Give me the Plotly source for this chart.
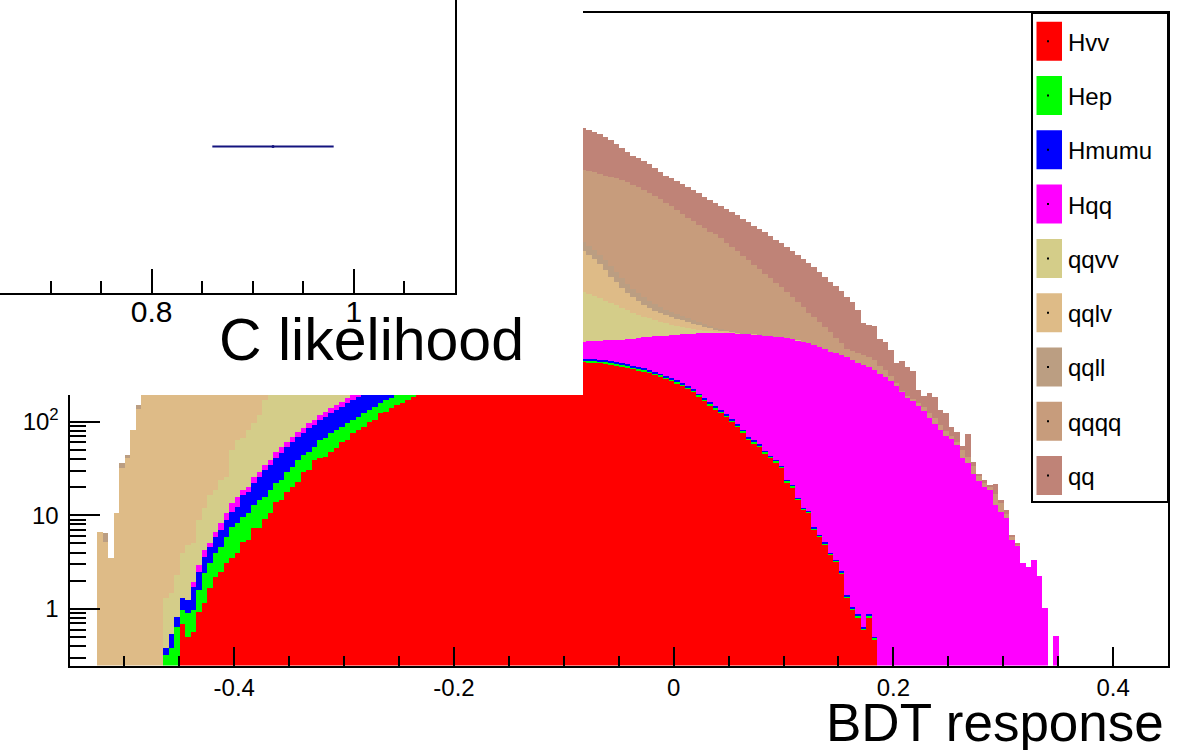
import numpy as np
import plotly.graph_objects as go

W, H = 1181, 750

# ---------------- data ----------------
bin_low = -0.55
bin_width = 0.005
n_bins = 200

series_names = ["Hvv", "Hep", "Hmumu", "Hqq", "qqvv", "qqlv", "qqll", "qqqq", "qq"]
series_colors = ["#FF0000", "#00FF00", "#0000FF", "#FF00FF", "#D4CD89",
                 "#DEBB87", "#BB9E82", "#C79C7C", "#BF8377"]

hvv_first_bin = 20
hvv = [0.69, 0.50, 0.57, 0.93, 1.16, 1.67, 2.19, 2.48, 3.1, 3.5,
       3.96, 5.2, 5.45, 7.3, 7.3, 9.1, 10.6, 13.9, 14.6, 17.7,
       20, 22.6, 29, 30.3, 38.8, 40.9, 42, 47.4, 52, 60.5,
       63.5, 75.5, 81, 88, 99, 104, 123, 127, 140, 151,
       158, 170, 183, 190, 203, 214, 228, 240, 251, 265,
       276, 291, 300, 316, 326, 341, 350, 363, 371, 383,
       390, 400, 405, 415, 419, 427, 430, 436, 437, 441,
       442, 440, 438, 433, 430, 427, 422, 417, 407, 397,
       388, 378, 366, 355, 343, 330, 316, 303, 287, 271,
       256, 240, 224, 207, 186, 166, 150, 136, 124, 112,
       99, 88, 77, 64, 59, 54, 46, 41, 37, 32,
       22.6, 20, 14.6, 11.4, 10.6, 7.1, 5.9, 4.9, 3.8, 3.2,
       2.4, 1.31, 0.98, 0.82, 0.60, 0.82, 0.47]

hep_first_bin = 17
hep = [0.32, 0.38, 0.64, 0.29, 0.41, 0.41, 0.67, 1.26, 1.43, 1.77,
       2.1, 2.77, 4.0, 4.31, 4.4, 5.15, 5.6, 7.3, 6.6, 8.0,
       8.2, 9.2, 11.3, 12.7, 16.2, 14.9, 17.1, 14.6, 22.6, 24.6,
       28.1, 29, 27.5, 33.3, 28.5, 31, 35, 34, 39, 35, 43,
       40, 41, 39, 40, 38, 37, 37, 35, 34, 34,
       32, 31, 31, 29, 28, 28, 27, 26, 25, 25,
       24, 23, 23, 22, 22, 21, 21, 20, 20, 20,
       19, 19, 19, 18.5, 18.5,
       18, 18, 17, 17, 17, 16, 16, 15, 15, 14,
       14, 13, 13, 12, 11.5, 11, 10, 9.5, 9, 8.4,
       7.8, 6.8, 6.1, 5.5, 4.9, 4.4, 4.0, 3.5, 3.1, 2.7,
       2.2, 2.0, 1.8, 1.5, 1.3, 1.2, 1.0, 0.7, 0.6, 0.45,
       0.35, 0.3, 0.2, 0.17, 0.14, 0.11, 0.09, 0.07, 0.05, 0.04,
       0.03, 0.02, 0.03, 0.02]

hmumu_first_bin = 17
hmumu = [0.06, 0.16, 0.18, 0.33, 0.34, 0.74, 0.88, 1.18, 1.5, 1.91,
         2.38, 3.03, 3.3, 4.03, 6.9, 7.1, 9.2, 11, 14.6, 15.7,
         18.8, 22.3, 24.4, 27.8, 29.6, 31.6, 38.1, 38.6, 40.5, 45.4,
         47.5, 52, 55, 61.2, 66, 71,
         72, 72, 70, 70, 68, 66, 65, 62, 60, 58,
         56, 54, 52, 50, 48, 46, 44, 42, 40, 39,
         37, 35, 34, 32, 31, 30, 29, 28, 27, 26,
         25, 24, 23, 22, 22, 21, 20, 20, 19.5, 19,
         19, 18, 17, 17, 16, 16, 15, 15, 14, 14,
         13, 13, 12, 11, 11, 10, 9.5, 9, 8.5, 8,
         7.4, 6.5, 5.8, 5.2, 4.6, 4.1, 3.7, 3.2, 2.8, 2.4,
         2.0, 1.8, 1.6, 1.3, 1.1, 1.0, 0.85, 0.6, 0.5, 0.38,
         0.3, 0.26, 0.17, 0.14, 0.12, 0.09, 0.08, 0.06, 0.04, 0.03,
         0.025, 0.02, 0.025, 0.015]

hqq_first_bin = 22
hqq = [0.22, 0.47, 0.66, 0.46, 0.76, 1.31, 1.7, 2.7,
       3.4, 2.1, 2.3, 3.5, 3.3, 4.0, 4.5, 6.5, 7.3, 7.1,
       7.9, 9.1, 10, 11.3, 12, 13, 14, 17, 17, 19,
       20, 21, 22, 24, 26, 28, 30, 33, 36, 39,
       42, 46, 50, 54, 58, 63, 68, 73, 78, 84,
       90, 96, 103, 110, 117, 124, 131, 139, 147, 155,
       163, 171, 179, 187, 194, 201, 207, 213, 219, 224,
       229, 233, 236, 238, 250, 264, 269, 284, 295, 315,
       325, 354, 367, 398, 421, 445, 471, 494, 512, 550,
       566, 593, 621, 639, 676, 705, 722, 737, 750, 763,
       777, 778, 779, 793, 788, 783, 781, 777, 771, 766,
       757, 740, 719, 695, 671, 650, 620, 583, 549, 530,
       511, 488, 454, 422, 401, 382, 355, 322, 300, 271,
       240, 207, 179, 166, 147, 130, 109, 94, 81, 70,
       65, 56, 41, 36, 27.6, 23.3, 20.1, 18.6, 12.9, 10.9,
       9.4, 5.5, 4.8, 3.1, 2.8, 3.3, 2.25, 1.03, 0, 0.52]

qqvv_first_bin = 17
qqvv = [0.93, 0.94, 1.49,
        2.65, 3.57, 3.12, 5.95, 7.7, 11.4, 12, 15.5, 15, 36.3,
        47.8, 48, 61, 71, 88.7, 135.7, 170, 200, 240, 280,
        330, 380, 430, 490, 550, 610, 680, 750, 820, 890,
        960, 1030, 1100, 1170, 1240, 1310, 1380, 1450, 1520, 1590,
        1650, 1710, 1770, 1830, 1880, 1930, 1980, 2020, 2060, 2100,
        2130, 2160, 2180, 2200, 2210, 2220, 2220, 2210, 2200, 2180,
        2160, 2130, 2100, 2060, 2020, 1980, 1940, 1900, 1860, 1820,
        1790, 1760, 1730, 1710, 1585, 1466, 1361, 1204, 1111, 1013,
        889, 792, 682, 593, 518, 476, 405, 336, 308, 234,
        208, 172, 137, 113, 78, 44, 33, 22, 22, 11,
        11, 9, 8, 7, 6, 5, 4, 3, 2, 1.5,
        1, 0.8, 0.5]

qqlv_first_bin = 5
qqlv = [6.6, 5.2, 3.5, 10.6, 32,
        41, 81, 136, 190, 300, 430, 600, 800, 1000, 1250,
        1500, 1800, 2100, 2400, 2700, 3000, 3300, 3600, 3900, 4200,
        4500, 4800, 5100, 5400, 5700, 6000, 6300, 6600, 6900, 7200,
        7500, 7700, 7900, 8100, 8300, 8500, 8600, 8700, 8800, 8900,
        9000, 9000, 9000, 8950, 8900, 8850, 8800, 8700, 8600, 8500,
        8400, 8300, 8200, 8100, 8000, 7900, 7800, 7650, 7500, 7350,
        7200, 7050, 6900, 6750, 6600, 6450, 6300, 6150, 6000, 5850,
        5700, 5550, 5450, 5350, 5250, 5100, 5000, 4900, 4800, 4700,
        4550, 4400, 4300, 4202, 3698, 3247, 2725, 2212, 1649, 1334,
        1035, 805, 695, 565, 448, 356, 300, 287, 245, 234,
        197, 192, 158, 127, 124, 96, 70, 45, 33, 33,
        11, 8, 7, 6, 5, 4, 3, 2.5, 2, 1.5,
        1]

qqll_first_bin = 5
qqll = [0, 1.2, 0, 0, 4,
        3, 0, 14, 20, 30, 40, 55, 70, 90, 110,
        130, 160, 190, 220, 250, 290, 330, 370, 410, 450,
        500, 550, 600, 650, 700, 760, 820, 880, 940, 1000,
        1060, 1120, 1180, 1240, 1300, 1350, 1400, 1450, 1500, 1550,
        1600, 1640, 1680, 1720, 1760, 1800, 1830, 1860, 1890, 1910,
        1930, 1950, 1960, 1970, 1980, 1985, 1990, 1990, 1985, 1980,
        1970, 1960, 1950, 1935, 1920, 1900, 1880, 1860, 1840, 1820,
        1800, 1780, 1760, 1740, 1720, 1710, 1700, 1690, 1680, 1670,
        1660, 1650, 1645, 1640, 1487, 1347, 1188, 1156, 1084, 861,
        743, 585, 464, 420, 382, 306, 285, 229, 180, 171,
        162, 125, 120, 114, 82, 78, 62, 48, 24, 11,
        11, 8, 6, 5, 4, 3, 2, 1.5, 1, 0.8,
        0.5]

qqqq_first_bin = 20
qqqq = [50, 70, 100, 140, 190, 250, 330, 420, 530, 660,
        810, 990, 1200, 1440, 1710, 2010, 2350, 2720, 3130, 3580,
        4070, 4600, 5170, 5780, 6430, 7120, 7850, 8620, 9430, 10280,
        11170, 12100, 13060, 14050, 15070, 16120, 17190, 18280, 19390, 20510,
        21640, 22770, 23900, 25020, 26130, 27220, 28290, 29330, 30340, 31310,
        32240, 33120, 33950, 34730, 35450, 36110, 36710, 37250, 37730, 38150,
        38510, 38810, 39060, 39260, 39420, 39550, 39650, 39730, 39790, 39830,
        39850, 39950, 40050,
        40190, 39780, 38775, 37910, 37010, 36210, 35360, 34020, 32700, 30910,
        29540, 27500, 25590, 23770, 21790, 19990, 18280, 16720, 15090, 13610,
        12455, 11384, 10409, 9512, 9052, 8150, 7120, 6386, 5643, 4972,
        4427, 3827, 3402, 2924, 2542, 2201, 1930, 1634, 1375, 1156,
        944, 761, 651, 530, 434, 352, 248, 176, 107, 112,
        117, 112, 106, 99, 70, 56, 36, 18, 3, 9,
        8, 11, 13, 15, 15, 11, 9, 5, 4.5, 9,
        5.7, 6, 3, 2, 1.5, 4, 2.6, 0.9, 0.4, 0.12]

qq_first_bin = 20
qq = [100, 150, 220, 310, 430, 580, 770, 1000, 1280, 1620,
      2020, 2490, 3030, 3640, 4330, 5100, 5950, 6880, 7890, 8980,
      10150, 11400, 12730, 14130, 15600, 17150, 18760, 20430, 22160, 23950,
      25790, 27670, 29590, 31550, 33540, 35550, 37580, 39620, 41670, 43720,
      45760, 47790, 49800, 51790, 53750, 55680, 57570, 59420, 61220, 62970,
      64670, 66310, 67890, 69410, 70860, 72240, 73550, 74790, 75950, 77030,
      78030, 78950, 79790, 80550, 81230, 81830, 82350, 82790, 83150, 83430,
      84500, 85800, 86900,
      87520, 82180, 77680, 73420, 66680, 60460, 52470, 45770, 39780, 34850,
      33190, 30790, 28620, 25310, 22670, 20270, 20050, 18850, 17920, 17020,
      15970, 14990, 13440, 12620, 11490, 10890, 10520, 9958, 9490, 8686,
      8194, 7547, 7116, 6797, 6201, 5659, 5324, 4885, 4481, 4108,
      3786, 3487, 3160, 2795, 2471, 2185, 2020, 1787, 1542, 1324,
      1013, 614, 585, 593, 369, 351, 274, 164, 237, 195,
      173, 59, 45, 78, 74, 41, 44.6, 17.3, 16.9, 5.2,
      31.9, 3.5, 1.3, 1.7, 1.0, 4.7, 1.1, 1.1, 0.15, 0.12]

series_first_bins = [hvv_first_bin, hep_first_bin, hmumu_first_bin, hqq_first_bin,
                     qqvv_first_bin, qqlv_first_bin, qqll_first_bin, qqqq_first_bin,
                     qq_first_bin]
series_values = [hvv, hep, hmumu, hqq, qqvv, qqlv, qqll, qqqq, qq]

# inset: C likelihood measurement
c_like_value = [0.92]
c_like_error = [0.06]
c_like_row = [1.0]

x_ticks = [-0.4, -0.2, 0.0, 0.2, 0.4]
x_tick_labels = ["-0.4", "-0.2", "0", "0.2", "0.4"]
y_ticks = [1, 10, 100, 1e3, 1e4, 1e5, 1e6]
y_tick_labels = ["1", "10", "10<sup>2</sup>", "10<sup>3</sup>", "10<sup>4</sup>",
                 "10<sup>5</sup>", "10<sup>6</sup>"]
inset_ticks = [0.8, 1.0]
inset_tick_labels = ["0.8", "1"]

# ---------------- figure ----------------
def px(x):
    return x / W

def py(y):
    return 1 - y / H

centers = bin_low + bin_width * (np.arange(n_bins) + 0.5)

fig = go.Figure()
for name, color, first, vals in zip(series_names, series_colors,
                                     series_first_bins, series_values):
    arr = np.zeros(n_bins)
    arr[first:first + len(vals)] = vals
    fig.add_trace(go.Bar(
        x=centers, y=arr, width=bin_width, name=name,
        marker=dict(color=color, line=dict(width=0)),
        showlegend=False, xaxis="x", yaxis="y", hoverinfo="skip"))

# blank pad subplot (white background covering part of main frame)
fig.add_trace(go.Scatter(x=[None], y=[None], xaxis="x2", yaxis="y2",
                         showlegend=False, hoverinfo="skip"))

# inset measurement
fig.add_trace(go.Scatter(
    x=c_like_value, y=c_like_row, mode="markers",
    marker=dict(size=3, color="#14147f"),
    error_x=dict(type="data", array=c_like_error, color="#14147f",
                 thickness=2, width=0),
    xaxis="x3", yaxis="y3", showlegend=False, hoverinfo="skip"))

font_family = "Liberation Sans, Arial, Helvetica, sans-serif"

x_minor = [round(v, 3) for v in np.arange(-0.55, 0.451, 0.05)
           if min(abs(v - t) for t in x_ticks) > 1e-6]
y_minor = [m * 10.0 ** e for e in range(-1, 7) for m in range(2, 10)]
inset_minor = [0.65, 0.7, 0.75, 0.85, 0.9, 0.95, 1.05]

fig.update_layout(
    width=W, height=H, autosize=False,
    margin=dict(l=0, r=0, t=0, b=0),
    paper_bgcolor="white", plot_bgcolor="white",
    barmode="stack", bargap=0, hovermode=False,
    font=dict(family=font_family, color="black"),
    xaxis=dict(domain=[px(69.5), px(1168)], anchor="y",
               range=[-0.55, 0.45], showgrid=False, zeroline=False,
               showline=True, mirror=True, linecolor="black", linewidth=2,
               ticks="inside", ticklen=19, tickwidth=2, tickcolor="black",
               tickvals=x_ticks, ticktext=x_tick_labels,
               tickfont=dict(size=24, family=font_family),
               minor=dict(tickvals=x_minor, ticks="inside", ticklen=10,
                          tickwidth=2, tickcolor="black", showgrid=False)),
    yaxis=dict(domain=[py(665.5), py(13)], anchor="x", type="log",
               range=[np.log10(0.249), 6.361], showgrid=False, zeroline=False,
               showline=True, mirror=True, linecolor="black", linewidth=2,
               ticks="inside", ticklen=30, tickwidth=2, tickcolor="black",
               tickvals=y_ticks, ticktext=y_tick_labels, ticklabelstandoff=4,
               tickfont=dict(size=24, family=font_family),
               minor=dict(tickvals=y_minor, ticks="inside", ticklen=16,
                          tickwidth=2, tickcolor="black", showgrid=False)),
    xaxis2=dict(domain=[0, px(583)], anchor="y2", range=[0, 1],
                visible=True, showgrid=False, zeroline=False, showline=False,
                showticklabels=False, ticks=""),
    yaxis2=dict(domain=[py(395), 1], anchor="x2", range=[0, 1],
                visible=True, showgrid=False, zeroline=False, showline=False,
                showticklabels=False, ticks=""),
    xaxis3=dict(domain=[0, px(455)], anchor="y3", range=[0.65, 1.1],
                showgrid=False, zeroline=False, showline=True,
                linecolor="black", linewidth=2,
                ticks="inside", ticklen=24, tickwidth=2, tickcolor="black",
                tickvals=inset_ticks, ticktext=inset_tick_labels,
                ticklabelstandoff=-9,
                tickfont=dict(size=30, family=font_family),
                minor=dict(tickvals=inset_minor, ticks="inside", ticklen=12,
                           tickwidth=2, tickcolor="black", showgrid=False)),
    yaxis3=dict(domain=[py(293), 1], anchor="x3", side="right", range=[0, 2],
                showgrid=False, zeroline=False, showline=True,
                linecolor="black", linewidth=2, ticks="",
                showticklabels=False),
)

# legend drawn as a ROOT-style box
shapes = [dict(type="rect", xref="paper", yref="paper",
               x0=px(1032), x1=px(1168), y0=py(502), y1=py(13),
               fillcolor="white", line=dict(color="black", width=2),
               layer="above")]
annotations = []
for i, (name, color) in enumerate(zip(series_names, series_colors)):
    top = 21.7 + 54.3 * i
    bot = top + 39
    mid = (top + bot) / 2
    shapes.append(dict(type="rect", xref="paper", yref="paper",
                       x0=px(1036.5), x1=px(1062), y0=py(bot), y1=py(top),
                       fillcolor=color, line=dict(width=0), layer="above"))
    shapes.append(dict(type="rect", xref="paper", yref="paper",
                       x0=px(1047), x1=px(1049), y0=py(mid + 1), y1=py(mid - 1),
                       fillcolor="black", line=dict(width=0), layer="above"))
    annotations.append(dict(text=name, xref="paper", yref="paper",
                            x=px(1066), y=py(mid + 1), xanchor="left",
                            yanchor="middle", showarrow=False,
                            font=dict(size=24, family=font_family, color="black")))

annotations.append(dict(text="BDT response", xref="paper", yref="paper",
                        x=px(1166), y=py(722.5), xanchor="right", yanchor="middle",
                        showarrow=False,
                        font=dict(size=53, family=font_family, color="black")))
annotations.append(dict(text="C likelihood", xref="paper", yref="paper",
                        x=px(217), y=py(340.5), xanchor="left", yanchor="middle",
                        showarrow=False,
                        font=dict(size=59, family=font_family, color="black")))

fig.update_layout(shapes=shapes, annotations=annotations)

fig.write_html("out.html")
